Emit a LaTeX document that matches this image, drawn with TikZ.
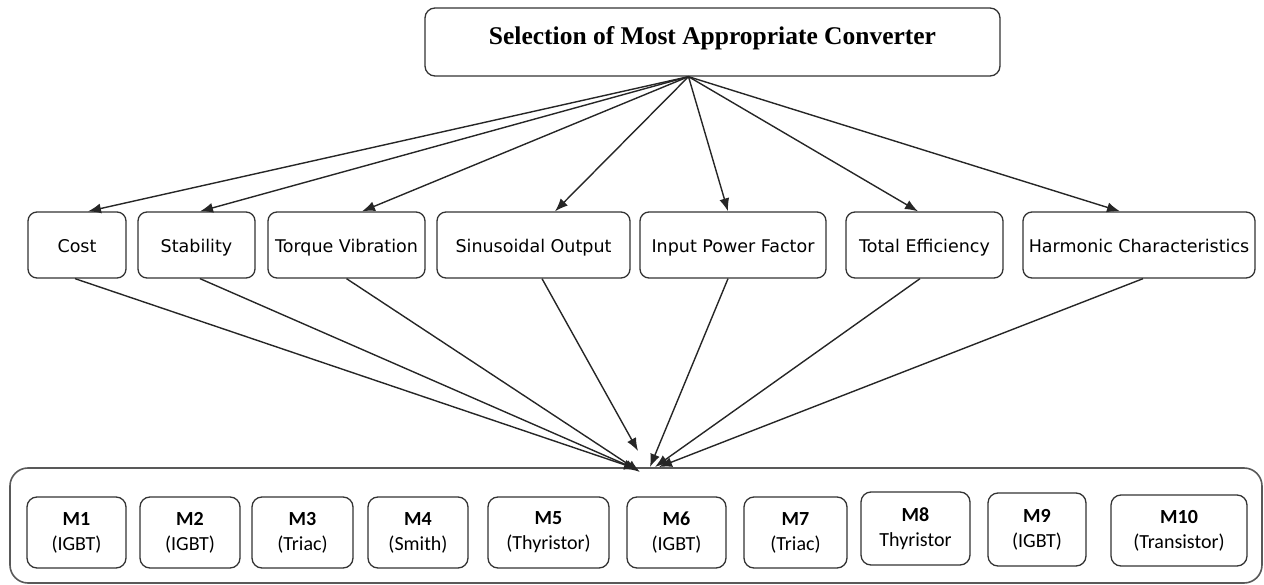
\documentclass[tikz,border=0pt]{standalone}
\usepackage{fontspec}
\setmainfont{Liberation Serif}
\newfontfamily\critfont{DejaVu Sans}
\newfontfamily\modfont{Carlito}
\usetikzlibrary{arrows.meta}

\begin{document}
\begin{tikzpicture}[x=1pt,y=-1pt,
    crit/.style={draw=black!80,line width=1.3pt,rounded corners=9pt,minimum height=66pt,inner sep=2pt,text height=16pt,text depth=0pt,font=\critfont\fontsize{17.5}{20}\selectfont},
    model/.style={draw=black!80,line width=1.3pt,rounded corners=10pt,minimum height=71pt,inner sep=2pt,align=center,font=\modfont\fontsize{20}{25}\selectfont},
    link/.style={draw=black!85,line width=1.4pt,-{Latex[length=13pt,width=10pt]}}]
    \useasboundingbox (0,0) rectangle (1264,585);
                % top
                \node[draw=black!80,line width=1.3pt,rounded corners=10pt,minimum width=575pt,minimum height=68pt,text height=18pt,text depth=12pt,font=\fontsize{25.5}{30}\selectfont\bfseries] (title) at (712.5,42) {Selection of Most Appropriate Converter};
                \coordinate (src) at ([xshift=-24pt]title.south);
                % criteria
                \node[crit,minimum width=98pt] (cost) at (77,245) {Cost};
                \node[crit,minimum width=117pt] (stab) at (196.5,245) {Stability};
                \node[crit,minimum width=157pt] (torq) at (346.5,245) {Torque Vibration};
                \node[crit,minimum width=193pt] (sinus) at (533.5,245) {Sinusoidal Output};
                \node[crit,minimum width=186pt] (ipf) at (733,245) {Input Power Factor};
                \node[crit,minimum width=157pt] (teff) at (924.5,245) {Total Efficiency};
                \node[crit,minimum width=232pt] (harm) at (1139,245) {Harmonic Characteristics};
                % models
                \node[draw=black!65,line width=1.6pt,rounded corners=18pt,minimum width=1252pt,minimum height=115pt] (models) at (636,525.5) {};
                \node[model,minimum width=99pt] (m1) at (76.5,532.5) {\textbf{M1}\\(IGBT)};
                \node[model,minimum width=100pt] (m2) at (190,532.5) {\textbf{M2}\\(IGBT)};
                \node[model,minimum width=101pt] (m3) at (302.5,532.5) {\textbf{M3}\\(Triac)};
                \node[model,minimum width=100pt] (m4) at (418,532.5) {\textbf{M4}\\(Smith)};
                \node[model,minimum width=121pt] (m5) at (548.5,532.5) {\textbf{M5}\\(Thyristor)};
                \node[model,minimum width=99pt] (m6) at (676.5,532.5) {\textbf{M6}\\(IGBT)};
                \node[model,minimum width=103pt] (m7) at (795.5,532.5) {\textbf{M7}\\(Triac)};
                \node[model,minimum width=109pt,minimum height=73pt] (m8) at (915.5,528.5) {\textbf{M8}\\Thyristor};
                \node[model,minimum width=98pt,minimum height=73pt] (m9) at (1037,529.5) {\textbf{M9}\\(IGBT)};
                \node[model,minimum width=136pt] (m10) at (1179,530.5) {\textbf{M10}\\(Transistor)};
                \coordinate (hubL) at (637,469);
                \coordinate (hubS) at (638,451);
                \coordinate (hubR) at (655,467);
                % title to criteria
                \draw[link] (src)--([xshift=11pt]cost.north);
                \draw[link] (src)--([xshift=3.5pt]stab.north);
                \draw[link] (src)--([xshift=15.5pt]torq.north);
                \draw[link] (src)--([xshift=21.5pt]sinus.north);
                \draw[link] (src)--([xshift=-5pt]ipf.north);
                \draw[link] (src)--([xshift=-6.5pt]teff.north);
                \draw[link] (src)--([xshift=-19pt]harm.north);
                % criteria to models
                \draw[link] ([xshift=-2pt]cost.south)--(hubL);
                \draw[link] ([xshift=3.5pt]stab.south)--([xshift=1pt,yshift=-1pt]hubL);
                \draw[link] (torq.south)--([xshift=3pt,yshift=-3pt]hubL);
                \draw[link] ([xshift=8.5pt]sinus.south)--(hubS);
                \draw[link] ([xshift=-5pt]ipf.south)--([xshift=-5pt]hubR);
                \draw[link] ([xshift=-4.5pt]teff.south)--(hubR);
                \draw[link] ([xshift=4pt]harm.south)--([xshift=4pt]hubR);
\end{tikzpicture}
\end{document}
